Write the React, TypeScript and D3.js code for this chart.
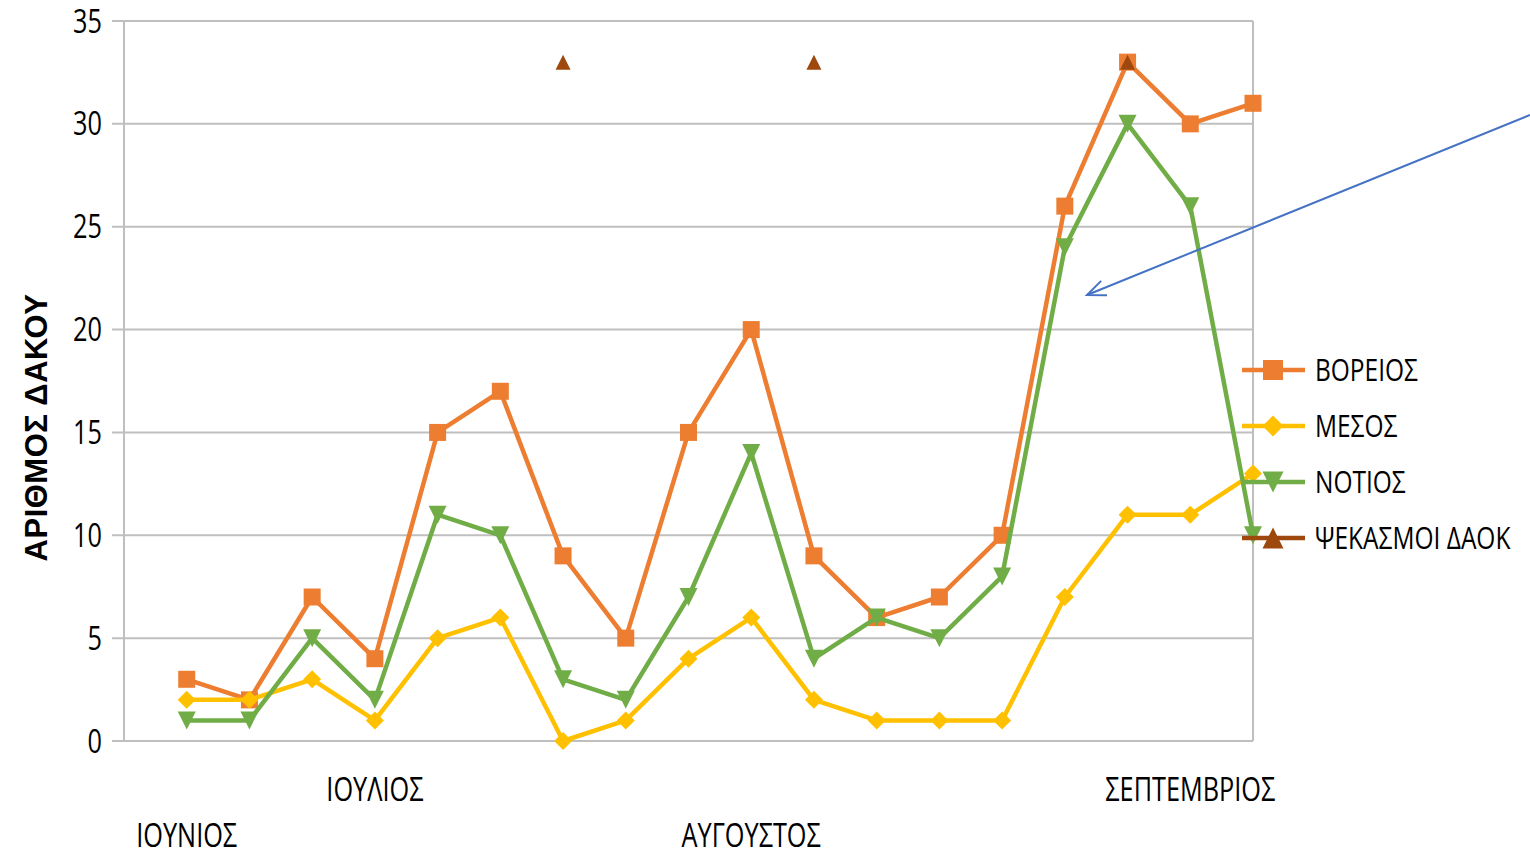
import { useEffect, useRef } from 'react';
import * as d3 from 'd3';

const categories = ['ΙΟΥΝΙΟΣ', '', '', 'ΙΟΥΛΙΟΣ', '', '', '', '', '', 'ΑΥΓΟΥΣΤΟΣ', '', '', '', '', '', '', 'ΣΕΠΤΕΜΒΡΙΟΣ', ''];
const voreios = [3, 2, 7, 4, 15, 17, 9, 5, 15, 20, 9, 6, 7, 10, 26, 33, 30, 31];
const mesos = [2, 2, 3, 1, 5, 6, 0, 1, 4, 6, 2, 1, 1, 1, 7, 11, 11, 13];
const notios = [1, 1, 5, 2, 11, 10, 3, 2, 7, 14, 4, 6, 5, 8, 24, 30, 26, 10];
const psekasmoi: (number | null)[] = [null, null, null, null, null, null, 33, null, null, null, 33, null, null, null, null, 33, null, null];
const yTicks = [0, 5, 10, 15, 20, 25, 30, 35];

// no narrow font installed, so a regular sans is squeezed horizontally
const FONT = '"Open Sans", sans-serif';
const SQUEEZE = 0.79;

type Shape = 'square' | 'diamond' | 'down' | 'up';

const markerPath = (shape: Shape, s: number) => {
  const h = s / 2;
  if (shape === 'square') return `M${-h},${-h}H${h}V${h}H${-h}Z`;
  if (shape === 'diamond') return `M0,${-h}L${h},0L0,${h}L${-h},0Z`;
  if (shape === 'down') return `M${-h},${-h}L${h},${-h}L0,${h}Z`;
  return `M0,${-h}L${h},${h}L${-h},${h}Z`;
};

const series = [
  { name: 'ΒΟΡΕΙΟΣ', values: voreios as (number | null)[], color: '#ED7D31', shape: 'square' as Shape, line: true },
  { name: 'ΜΕΣΟΣ', values: mesos as (number | null)[], color: '#FFC000', shape: 'diamond' as Shape, line: true },
  { name: 'ΝΟΤΙΟΣ', values: notios as (number | null)[], color: '#70AD47', shape: 'down' as Shape, line: true },
  { name: 'ΨΕΚΑΣΜΟΙ ΔΑΟΚ', values: psekasmoi, color: '#9E480E', shape: 'up' as Shape, line: false },
];

const Chart = () => {
  const svgRef = useRef<SVGSVGElement>(null);

  useEffect(() => {
    if (!svgRef.current) return;
    const width = 1530;
    const height = 851;
    const svg = d3.select(svgRef.current).attr('width', width).attr('height', height);
    svg.selectAll('*').remove();

    const left = 124, right = 1253, top = 21, bottom = 741;
    const x = d3.scaleLinear().domain([0, categories.length]).range([left, right]);
    const y = d3.scaleLinear().domain([0, 35]).range([bottom, top]);

    // gridlines + ticks
    svg.append('g')
      .selectAll('line')
      .data(yTicks)
      .join('line')
      .attr('x1', left - 12)
      .attr('x2', right)
      .attr('y1', d => y(d))
      .attr('y2', d => y(d))
      .attr('stroke', '#BFBFBF')
      .attr('stroke-width', 2);

    svg.append('line')
      .attr('x1', left).attr('x2', left).attr('y1', top).attr('y2', bottom)
      .attr('stroke', '#BFBFBF').attr('stroke-width', 2);
    svg.append('line')
      .attr('x1', right).attr('x2', right).attr('y1', top).attr('y2', bottom)
      .attr('stroke', '#BFBFBF').attr('stroke-width', 2);

    svg.append('g')
      .selectAll('text')
      .data(yTicks)
      .join('text')
      .attr('transform', d => `translate(102,${y(d)}) scale(${SQUEEZE},1)`)
      .attr('dy', '0.36em')
      .attr('text-anchor', 'end')
      .attr('font-family', FONT)
      .attr('font-size', 32)
      .attr('fill', '#000')
      .text(d => d);

    // category labels, staggered on two rows
    const labelled = categories.map((c, i) => ({ c, i })).filter(d => d.c !== '');
    svg.append('g')
      .selectAll('text')
      .data(labelled)
      .join('text')
      .attr('transform', (d, k) => `translate(${x(d.i + 1)},${k % 2 === 0 ? 847 : 801}) scale(${SQUEEZE},1)`)
      .attr('text-anchor', 'middle')
      .attr('font-family', FONT)
      .attr('font-size', 32)
      .attr('fill', '#000')
      .text(d => d.c);

    // y axis title
    svg.append('text')
      .attr('transform', `translate(47,${(290 + 565) / 2}) rotate(-90)`)
      .attr('text-anchor', 'middle')
      .attr('font-family', '"Liberation Sans", Arial, sans-serif')
      .attr('font-weight', 'bold')
      .attr('font-size', 31)
      .attr('letter-spacing', 0.5)
      .attr('fill', '#000')
      .text('ΑΡΙΘΜΟΣ ΔΑΚΟΥ');

    // series
    series.forEach(s => {
      const pts = s.values
        .map((v, i) => ({ v, i }))
        .filter(d => d.v !== null) as { v: number; i: number }[];
      if (s.line) {
        const line = d3.line<{ v: number; i: number }>()
          .x(d => x(d.i + 1))
          .y(d => y(d.v));
        svg.append('path')
          .datum(pts)
          .attr('d', line)
          .attr('fill', 'none')
          .attr('stroke', s.color)
          .attr('stroke-width', 4.5)
          .attr('stroke-linejoin', 'round');
      }
      svg.append('g')
        .selectAll('path')
        .data(pts)
        .join('path')
        .attr('transform', d => `translate(${x(d.i + 1)},${y(d.v)})`)
        .attr('d', markerPath(s.shape, s.shape === 'square' ? 17 : s.shape === 'up' ? 15 : 18))
        .attr('fill', s.color);
    });

    // legend
    const lg = svg.append('g');
    series.forEach((s, k) => {
      const ly = 370 + k * 56;
      lg.append('line')
        .attr('x1', 1242).attr('x2', 1305).attr('y1', ly).attr('y2', ly)
        .attr('stroke', s.color).attr('stroke-width', 4.5);
      lg.append('path')
        .attr('transform', `translate(1273,${ly})`)
        .attr('d', markerPath(s.shape, s.shape === 'square' ? 20 : 21))
        .attr('fill', s.color);
      lg.append('text')
        .attr('transform', `translate(1315,${ly}) scale(${SQUEEZE},1)`)
        .attr('dy', '0.36em')
        .attr('font-family', FONT)
        .attr('font-size', 31)
        .attr('fill', '#000')
        .text(s.name);
    });

    // annotation arrow
    svg.append('line')
      .attr('x1', 1530).attr('y1', 115).attr('x2', 1087).attr('y2', 295)
      .attr('stroke', '#4472C4').attr('stroke-width', 2);
    const ang = Math.atan2(295 - 115, 1087 - 1530);
    const len = 20, spread = 0.4;
    svg.append('path')
      .attr('d', `M${1087 - len * Math.cos(ang - spread)},${295 - len * Math.sin(ang - spread)}L1087,295L${1087 - len * Math.cos(ang + spread)},${295 - len * Math.sin(ang + spread)}`)
      .attr('fill', 'none')
      .attr('stroke', '#4472C4')
      .attr('stroke-width', 2);
  }, []);

  return <svg ref={svgRef} style={{ position: 'absolute', left: 0, top: 0, background: '#fff' }} />;
};

export default function App() {
  return <Chart />;
}
